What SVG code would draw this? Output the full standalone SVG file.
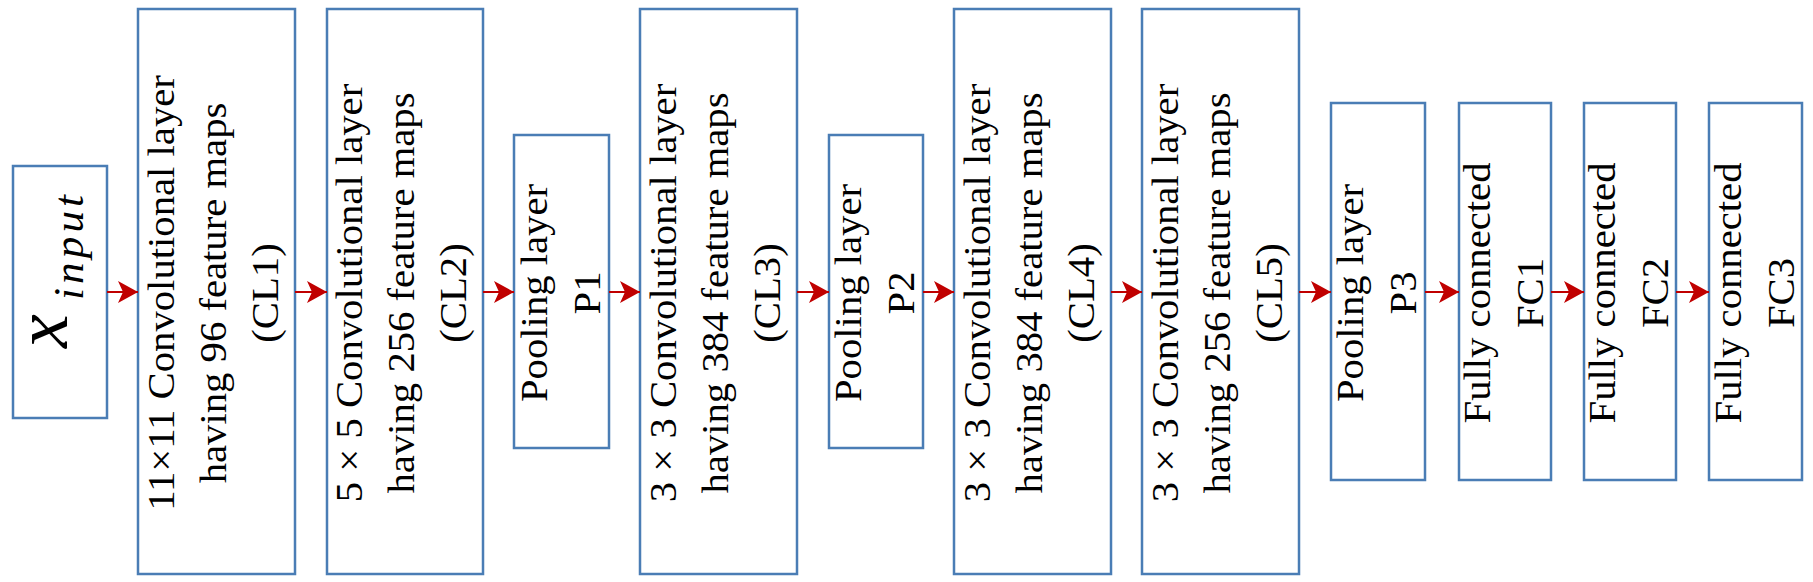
<svg xmlns="http://www.w3.org/2000/svg" width="1813" height="582" viewBox="0 0 1813 582">
<style>
.box{fill:#fff;stroke:#4A7DB5;stroke-width:2.5}
.t{font-size:37px;fill:#000;text-anchor:middle}
.mx{font-style:italic;fill:#000}
.arr{stroke:#C00000;stroke-width:2;fill:none;marker-end:url(#ah)}
</style>
<defs>
<marker id="ah" markerUnits="userSpaceOnUse" viewBox="0 0 20 22" refX="20" refY="11" markerWidth="20" markerHeight="22" orient="auto">
<path d="M0,0 L20,11 L0,22 L5,11 z" fill="#C00000"/>
</marker>
</defs>
<rect width="1813" height="582" fill="#fff"/>
<g font-family="'Liberation Serif', 'Times New Roman', serif">
<g id="input">
<rect class="box" x="13" y="166" width="94" height="252"/>
<text class="mx" font-size="76" transform="translate(67,348) rotate(-90)">x</text>
<text class="mx" font-size="43" textLength="105" lengthAdjust="spacing" transform="translate(83,300) rotate(-90)">input</text>
</g>
<g id="cl1">
<rect class="box" x="138" y="9" width="157" height="565"/>
<text class="t" transform="translate(173.5,293) rotate(-90) scale(1.1,1)">11×11 Convolutional layer</text>
<text class="t" transform="translate(225.5,293) rotate(-90) scale(1.1,1)">having 96 feature maps</text>
<text class="t" transform="translate(277.5,293) rotate(-90) scale(1.1,1)">(CL1)</text>
</g>
<g id="cl2">
<rect class="box" x="327" y="9" width="156" height="565"/>
<text class="t" transform="translate(362,293) rotate(-90) scale(1.1,1)">5 × 5 Convolutional layer</text>
<text class="t" transform="translate(414,293) rotate(-90) scale(1.1,1)">having 256 feature maps</text>
<text class="t" transform="translate(466,293) rotate(-90) scale(1.1,1)">(CL2)</text>
</g>
<g id="p1">
<rect class="box" x="514" y="135" width="95" height="313"/>
<text class="t" transform="translate(546.5,293) rotate(-90) scale(1.1,1)">Pooling layer</text>
<text class="t" transform="translate(599.5,293) rotate(-90) scale(1.1,1)">P1</text>
</g>
<g id="cl3">
<rect class="box" x="640" y="9" width="157" height="565"/>
<text class="t" transform="translate(675.5,293) rotate(-90) scale(1.1,1)">3 × 3 Convolutional layer</text>
<text class="t" transform="translate(727.5,293) rotate(-90) scale(1.1,1)">having 384 feature maps</text>
<text class="t" transform="translate(779.5,293) rotate(-90) scale(1.1,1)">(CL3)</text>
</g>
<g id="p2">
<rect class="box" x="829" y="135" width="94" height="313"/>
<text class="t" transform="translate(861,293) rotate(-90) scale(1.1,1)">Pooling layer</text>
<text class="t" transform="translate(914,293) rotate(-90) scale(1.1,1)">P2</text>
</g>
<g id="cl4">
<rect class="box" x="954" y="9" width="157" height="565"/>
<text class="t" transform="translate(989.5,293) rotate(-90) scale(1.1,1)">3 × 3 Convolutional layer</text>
<text class="t" transform="translate(1041.5,293) rotate(-90) scale(1.1,1)">having 384 feature maps</text>
<text class="t" transform="translate(1093.5,293) rotate(-90) scale(1.1,1)">(CL4)</text>
</g>
<g id="cl5">
<rect class="box" x="1142" y="9" width="157" height="565"/>
<text class="t" transform="translate(1177.5,293) rotate(-90) scale(1.1,1)">3 × 3 Convolutional layer</text>
<text class="t" transform="translate(1229.5,293) rotate(-90) scale(1.1,1)">having 256 feature maps</text>
<text class="t" transform="translate(1281.5,293) rotate(-90) scale(1.1,1)">(CL5)</text>
</g>
<g id="p3">
<rect class="box" x="1331" y="103" width="94" height="377"/>
<text class="t" transform="translate(1363,293) rotate(-90) scale(1.1,1)">Pooling layer</text>
<text class="t" transform="translate(1416,293) rotate(-90) scale(1.1,1)">P3</text>
</g>
<g id="fc1">
<rect class="box" x="1459" y="103" width="92" height="377"/>
<text class="t" transform="translate(1490,293) rotate(-90) scale(1.1,1)">Fully connected</text>
<text class="t" transform="translate(1543,293) rotate(-90) scale(1.1,1)">FC1</text>
</g>
<g id="fc2">
<rect class="box" x="1584" y="103" width="92" height="377"/>
<text class="t" transform="translate(1615,293) rotate(-90) scale(1.1,1)">Fully connected</text>
<text class="t" transform="translate(1668,293) rotate(-90) scale(1.1,1)">FC2</text>
</g>
<g id="fc3">
<rect class="box" x="1709" y="103" width="93" height="377"/>
<text class="t" transform="translate(1740.5,293) rotate(-90) scale(1.1,1)">Fully connected</text>
<text class="t" transform="translate(1793.5,293) rotate(-90) scale(1.1,1)">FC3</text>
</g>
</g>
<g id="connectors">
<line class="arr" x1="107" y1="292" x2="138" y2="292"/>
<line class="arr" x1="295" y1="292" x2="327" y2="292"/>
<line class="arr" x1="483" y1="292" x2="514" y2="292"/>
<line class="arr" x1="609" y1="292" x2="640" y2="292"/>
<line class="arr" x1="797" y1="292" x2="829" y2="292"/>
<line class="arr" x1="923" y1="292" x2="954" y2="292"/>
<line class="arr" x1="1111" y1="292" x2="1142" y2="292"/>
<line class="arr" x1="1299" y1="292" x2="1331" y2="292"/>
<line class="arr" x1="1425" y1="292" x2="1459" y2="292"/>
<line class="arr" x1="1551" y1="292" x2="1584" y2="292"/>
<line class="arr" x1="1676" y1="292" x2="1709" y2="292"/>
</g>
</svg>
